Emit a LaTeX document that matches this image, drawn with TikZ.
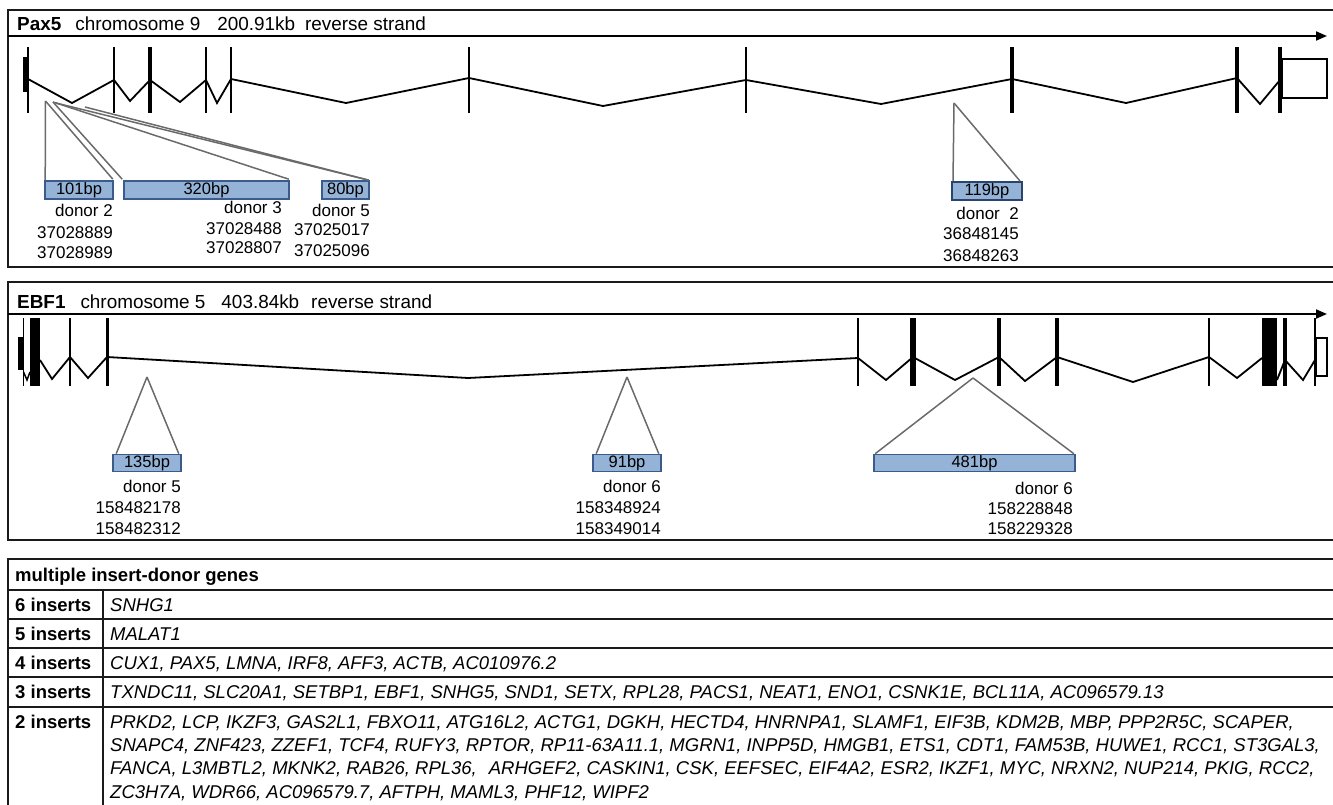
\documentclass[tikz,border=0pt]{standalone}
\usepackage{fontspec}
\setmainfont{Liberation Sans}
\usetikzlibrary{arrows.meta,calc}
\definecolor{insfill}{HTML}{95B3D7}
\definecolor{insdraw}{HTML}{3B5B8C}
\definecolor{insdark}{HTML}{2A4470}
\definecolor{conngray}{HTML}{6A6A6A}
\definecolor{framecol}{HTML}{1A1A1A}
\begin{document}
\begin{tikzpicture}[x=1pt,y=-1pt,
  panel/.style={draw=framecol,line width=2pt},
  strandarrow/.style={draw=black,line width=1.8pt,-{Triangle[length=11pt,width=9pt]}},
  intron/.style={draw=black,line width=1.8pt,line join=miter},
  exonline/.style={draw=black,line width=#1},
  insbox/.style={draw=insdraw,fill=insfill,line width=1.6pt,minimum height=18pt,inner sep=0pt,font=\fontsize{16.5}{18}\selectfont},
  connline/.style={draw=conngray,line width=1.5pt},
  lbl/.style={anchor=base east,inner sep=0pt,font=\fontsize{17}{19}\selectfont},
  paneltitle/.style={anchor=base west,inner sep=0pt,font=\fontsize{18.9}{21}\selectfont},
  tabline/.style={draw=framecol,line width=2pt},
  tabhead/.style={anchor=base west,inner sep=0pt,font=\fontsize{18.5}{20}\selectfont\bfseries},
  tabtext/.style={anchor=base west,inner sep=0pt,font=\fontsize{18.5}{20}\selectfont\itshape},
]
\useasboundingbox (0,0) rectangle (1333,805);
\clip (0,0) rectangle (1333,805);

% ================= Panel 1: Pax5 =================
\draw[panel] (8,10) rectangle (1350,267);
\node[paneltitle] (t1) at (17,31) {\textbf{Pax5}\hspace{14pt}chromosome 9\hspace{17pt}200.91kb\hspace{10pt}reverse strand};
\draw[strandarrow] (8,36) -- (1327,36);

\fill (22.5,57) rectangle (27,92);
\draw[exonline=2pt] (28,47) -- (28,113);
\foreach \x in {114,206,231,469,746} \draw[exonline=2.2pt] (\x,47) -- (\x,113);
\draw[exonline=4.5pt] (150,47) -- (150,113);
\foreach \x in {1012,1237,1280} \draw[exonline=3.5pt] (\x,47) -- (\x,113);
\draw[intron] (28,79) -- (72,103) -- (114,80) -- (130,101) -- (150,80) -- (180,102) -- (206,80) -- (217,103) -- (231,79) -- (346,103) -- (469,78) -- (603,106) -- (746,80) -- (881,104) -- (1012,79) -- (1126,103) -- (1237,78) -- (1260,104) -- (1280,80);
\draw[line width=1.8pt] (1282,59) rectangle (1327,98);

% inserts
\node[insbox,minimum width=68pt] (b101) at (79,190) {101bp};
\node[insbox,minimum width=165pt] (b320) at (206.5,190) {320bp};
\node[insbox,minimum width=47pt] (b80) at (345.5,190) {80bp};
\node[insbox,draw=insdark,line width=2pt,minimum width=70pt] (b119) at (987,191) {119bp};

\coordinate (a101) at (45.5,101);
\coordinate (a320) at (53,102);
\coordinate (a80a) at (56,103);
\coordinate (a80b) at (85,107);
\coordinate (a119) at (954,103);
\draw[connline] (a101) -- ($(b101.north west)+(1,0)$);
\draw[connline] (a101) -- ($(b101.north east)+(-1,-1)$);
\draw[connline] (a320) -- ($(b320.north west)+(-1,-1)$);
\draw[connline] (a320) -- ($(b320.north east)+(-1,-1)$);
\draw[connline] (a80a) -- ($(b80.north east)+(-1,0)$);
\draw[connline] (a80b) -- ($(b80.north east)+(-1,0)$);
\draw[connline] (a119) -- ($(b119.north west)+(2,0)$);
\draw[connline] (a119) -- ($(b119.north east)+(-3,0)$);

\node[lbl] (d101) at (113,217) {donor 2};
\node[lbl] (s101) at (113,238.5) {37028889};
\node[lbl] (e101) at (113,258.5) {37028989};
\node[lbl] (d320) at (282,214) {donor 3};
\node[lbl] (s320) at (282,234) {37028488};
\node[lbl] (e320) at (282,254) {37028807};
\node[lbl] (d80) at (370,217) {donor 5};
\node[lbl] (s80) at (370,236) {37025017};
\node[lbl] (e80) at (370,256) {37025096};
\node[lbl] (d119) at (1019,219) {donor\ \ 2};
\node[lbl] (s119) at (1019,240) {36848145};
\node[lbl] (e119) at (1019,261) {36848263};

% ================= Panel 2: EBF1 =================
\draw[panel] (8,282) rectangle (1350,540);
\node[paneltitle] (t2) at (17,308) {\textbf{EBF1}\hspace{15pt}chromosome 5\hspace{16pt}403.84kb\hspace{12pt}reverse strand};
\draw[strandarrow] (8,314) -- (1327,314);

\fill (18,337) rectangle (23,370);
\draw[exonline=1.6pt] (23.5,318) -- (23.5,386);
\fill (30,318) rectangle (40,386);
\draw[line width=1.5pt] (23.5,372) -- (27,380) -- (30,372);
\draw[exonline=2.5pt] (70,318) -- (70,386);
\draw[exonline=3pt] (107,318) -- (107,386);
\draw[exonline=1.8pt] (858,318) -- (858,386);
\draw[exonline=6pt] (913,318) -- (913,386);
\draw[exonline=4pt] (999,318) -- (999,386);
\draw[exonline=4pt] (1057,318) -- (1057,386);
\draw[exonline=1.5pt] (1209,318) -- (1209,386);
\fill (1262,318) rectangle (1277,386);
\draw[exonline=3.5pt] (1285,318) -- (1285,386);
\draw[exonline=1.5pt] (1315,318) -- (1315,386);
\draw[intron] (40,360) -- (52,379) -- (70,357) -- (88,378) -- (107,357) -- (468,378) -- (858,358) -- (886,380) -- (913,357) -- (955,380) -- (999,357) -- (1025,381) -- (1057,357) -- (1133,382) -- (1209,357) -- (1237,378) -- (1262,358);
\draw[intron] (1277,380) -- (1285,360) -- (1303,380) -- (1315,360);
\draw[line width=1.6pt] (1316,338) rectangle (1327,376);

\node[insbox,minimum width=68pt,minimum height=17pt] (b135) at (147,463) {135bp};
\node[insbox,minimum width=68pt,minimum height=17pt] (b91) at (627,463) {91bp};
\node[insbox,minimum width=201pt,minimum height=17pt] (b481) at (974.5,463) {481bp};
\coordinate (a135) at (147,377);
\coordinate (a91) at (627,377);
\coordinate (a481) at (973,378);
\draw[connline] (a135) -- ($(b135.north west)+(4,0)$);
\draw[connline] (a135) -- ($(b135.north east)+(-3,0)$);
\draw[connline] (a91) -- ($(b91.north west)+(4,0)$);
\draw[connline] (a91) -- ($(b91.north east)+(-3,0)$);
\draw[connline] (a481) -- ($(b481.north west)+(2,0)$);
\draw[connline] (a481) -- ($(b481.north east)+(-2,0)$);

\node[lbl] (d135) at (181,492) {donor 5};
\node[lbl] (s135) at (181,513) {158482178};
\node[lbl] (e135) at (181,534) {158482312};
\node[lbl] (d91) at (661,492) {donor 6};
\node[lbl] (s91) at (661,513) {158348924};
\node[lbl] (e91) at (661,534) {158349014};
\node[lbl] (d481) at (1073,494) {donor 6};
\node[lbl] (s481) at (1073,514) {158228848};
\node[lbl] (e481) at (1073,534) {158229328};

% ================= Table =================
\draw[tabline] (8,559) rectangle (1350,900);
\foreach \y in {590,619,648,677,707} \draw[tabline] (8,\y) -- (1350,\y);
\draw[tabline] (103,590) -- (103,900);
\node[tabhead] (th) at (15,581) {multiple insert-donor genes};
\node[tabhead] (r6) at (15,611) {6 inserts};
\node[tabhead] (r5) at (15,640) {5 inserts};
\node[tabhead] (r4) at (15,669) {4 inserts};
\node[tabhead] (r3) at (15,698.5) {3 inserts};
\node[tabhead] (r2) at (15,728.5) {2 inserts};
\node[tabtext] (g6) at (110,611) {SNHG1};
\node[tabtext] (g5) at (110,640) {MALAT1};
\node[tabtext] (g4) at (110,669) {CUX1, PAX5, LMNA, IRF8, AFF3, ACTB, AC010976.2};
\node[tabtext] (g3) at (110,698.5) {TXNDC11, SLC20A1, SETBP1, EBF1, SNHG5, SND1, SETX, RPL28, PACS1, NEAT1, ENO1, CSNK1E, BCL11A, AC096579.13};
\node[tabtext] (g2a) at (110,728.5) {PRKD2, LCP, IKZF3, GAS2L1, FBXO11, ATG16L2, ACTG1, DGKH, HECTD4, HNRNPA1, SLAMF1, EIF3B, KDM2B, MBP, PPP2R5C, SCAPER,};
\node[tabtext] (g2b) at (110,751.5) {SNAPC4, ZNF423, ZZEF1, TCF4, RUFY3, RPTOR, RP11-63A11.1, MGRN1, INPP5D, HMGB1, ETS1, CDT1, FAM53B, HUWE1, RCC1, ST3GAL3,};
\node[tabtext] (g2c) at (110,774.5) {FANCA, L3MBTL2, MKNK2, RAB26, RPL36,\hspace{12pt}ARHGEF2, CASKIN1, CSK, EEFSEC, EIF4A2, ESR2, IKZF1, MYC, NRXN2, NUP214, PKIG, RCC2,};
\node[tabtext] (g2d) at (110,798) {ZC3H7A, WDR66, AC096579.7, AFTPH, MAML3, PHF12, WIPF2};
\end{tikzpicture}
\end{document}
